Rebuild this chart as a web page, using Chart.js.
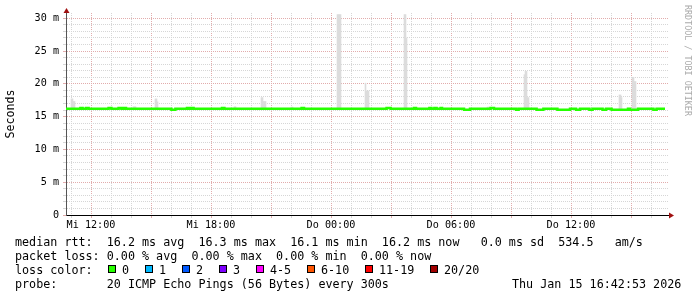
<!DOCTYPE html>
<html>
<head>
<meta charset="utf-8">
<script src="https://cdn.jsdelivr.net/npm/chart.js@4.4.1/dist/chart.umd.min.js"></script>
<style>
  body { margin: 0; background: #fff; }
  #wrap { position: relative; width: 697px; height: 297px; overflow: hidden; background: #fff; }
  #chart { position: absolute; left: 0; top: 0; }
  .txt { position: absolute; left: 15px; font-family: 'DejaVu Sans Mono', monospace; font-size: 11.72px; line-height: 14px; white-space: pre; color: #000; }
  .box { position: absolute; top: 265px; width: 6px; height: 6px; border: 1px solid #000; }
  #mark { position: absolute; left: 683px; top: 5px; writing-mode: vertical-rl; font-family: 'DejaVu Sans Mono', monospace; font-size: 8.4px; line-height: 9px; color: #aaa; white-space: pre; }
</style>
</head>
<body>
<div id="wrap">
  <canvas id="chart" width="697" height="297"></canvas>
  <div id="mark">RRDTOOL / TOBI OETIKER</div>
  <div class="txt" style="top:234.5px">median rtt:  16.2 ms avg  16.3 ms max  16.1 ms min  16.2 ms now   0.0 ms sd  534.5   am/s</div>
  <div class="txt" style="top:248.5px">packet loss: 0.00 % avg  0.00 % max  0.00 % min  0.00 % now</div>
  <div class="txt" style="top:262.5px" id="lossRow">loss color:</div>
  <div class="txt" style="top:276.5px">probe:       20 ICMP Echo Pings (56 Bytes) every 300s</div>
  <div class="txt" style="top:276.5px; left:512px">Thu Jan 15 16:42:53 2026</div>
</div>
<script>
// x values are hours counted from Mi 00:00, y values are milliseconds
const medianHours = [10.75, 11.47, 11.58, 11.75, 11.88, 12.88, 13.02, 13.38, 13.52, 13.63, 13.75,
  16.02, 16.22, 16.8, 16.92, 17.02, 17.13, 18.55, 18.67, 22.53, 22.65, 26.78, 26.98,
  28.15, 28.25, 28.92, 29.02, 29.17, 29.28, 29.48, 29.55, 30.65, 30.95, 31.98, 32.15,
  33.25, 33.38, 34.28, 34.62, 35.32, 35.95, 36.25, 36.45, 36.92, 37.08, 37.58, 37.75,
  38.03, 38.85, 38.95, 39.35, 40.12, 40.28, 40.7];
const medianMs = [16.2, 16.3, 16.2, 16.3, 16.2, 16.3, 16.2, 16.3, 16.2, 16.3, 16.2,
  16.05, 16.2, 16.3, 16.2, 16.3, 16.2, 16.3, 16.2, 16.3, 16.2, 16.3, 16.2,
  16.3, 16.2, 16.3, 16.2, 16.3, 16.2, 16.3, 16.2, 16.05, 16.2, 16.3, 16.2,
  16.05, 16.2, 16.05, 16.2, 16.05, 16.2, 16.05, 16.2, 16.05, 16.2, 16.05, 16.2,
  16.05, 16.2, 16.05, 16.2, 16.05, 16.2, 16.2];

const smokeHours = [11.025, 11.075, 11.125, 11.175, 14.125, 14.175, 14.225, 15.225, 15.275, 15.325,
  19.175, 19.225, 20.525, 20.575, 20.625, 20.675, 20.725, 22.025, 22.075,
  24.325, 24.375, 24.425, 24.475, 25.725, 25.775, 25.825, 25.875, 27.675, 27.725, 27.775,
  31.825, 31.875, 31.925, 33.675, 33.725, 33.775, 33.825, 33.875,
  38.425, 38.475, 38.525, 39.075, 39.125, 39.175, 39.225];
const smokeLow = [16.1, 16.1, 16.1, 16.1, 16.1, 16.1, 16.1, 16.1, 16.1, 16.1,
  16.1, 16.1, 16.1, 16.1, 16.1, 16.1, 16.1, 16.1, 16.1,
  16.1, 16.1, 16.1, 16.1, 16.1, 16.1, 16.1, 16.1, 16.1, 16.1, 16.1,
  16.1, 16.1, 16.1, 16.1, 16.1, 16.1, 16.1, 16.1,
  16.1, 16.1, 16.1, 16.1, 16.1, 16.1, 16.1];
const smokeHigh = [17.7, 17.7, 17.3, 17.3, 16.5, 16.5, 16.5, 17.7, 17.7, 17.25,
  16.5, 16.5, 17.9, 17.9, 17.3, 17.3, 17.3, 16.45, 16.45,
  30.55, 30.55, 30.55, 30.55, 20.1, 18.9, 18.9, 18.9, 30.55, 30.55, 27.0,
  16.45, 16.45, 16.45, 21.4, 21.9, 21.9, 17.9, 17.9,
  18.3, 18.3, 17.9, 21.0, 21.0, 20.35, 20.35];

const xTickHours = [12, 18, 24, 30, 36];
const xTickLabels = ['Mi 12:00', 'Mi 18:00', 'Do 00:00', 'Do 06:00', 'Do 12:00'];
const yTickValues = [0, 5, 10, 15, 20, 25, 30];
const yTickLabels = ['0', '5 m', '10 m', '15 m', '20 m', '25 m', '30 m'];

const lossLabels = ['0', '1', '2', '3', '4-5', '6-10', '11-19', '20/20'];
const lossColors = ['#26ff00', '#00b8ff', '#0059ff', '#7e00ff', '#ff00ff', '#ff5500', '#ff0000', '#a10000'];

const MONO = "'DejaVu Sans Mono', monospace";
const MINOR = '#d6d6d6';
const MAJOR = '#e2acac';

// loss color legend row
const lossRow = document.getElementById('lossRow').parentNode;
let bx = 108;
lossLabels.forEach(function (lbl, i) {
    const box = document.createElement('div');
    box.className = 'box';
    box.style.left = bx + 'px';
    box.style.background = lossColors[i];
    lossRow.appendChild(box);
    const t = document.createElement('div');
    t.className = 'txt';
    t.style.top = '262.5px';
    t.style.left = (bx + 14) + 'px';
    t.textContent = lbl;
    lossRow.appendChild(t);
    bx += 30 + 7 * lbl.length;
});

// red arrows at the axis ends
const arrowPlugin = {
    id: 'arrows',
    afterDraw(chart) {
        const { ctx, chartArea: a } = chart;
        ctx.save();
        ctx.fillStyle = '#a01010';
        ctx.beginPath();
        ctx.moveTo(a.left + 0.5 - 3, a.top);
        ctx.lineTo(a.left + 0.5 + 3, a.top);
        ctx.lineTo(a.left + 0.5, a.top - 5);
        ctx.closePath();
        ctx.fill();
        ctx.beginPath();
        ctx.moveTo(a.right, a.bottom + 0.5 - 3);
        ctx.lineTo(a.right, a.bottom + 0.5 + 3);
        ctx.lineTo(a.right + 5, a.bottom + 0.5);
        ctx.closePath();
        ctx.fill();
        ctx.restore();
    }
};

new Chart(document.getElementById('chart').getContext('2d'), {
    type: 'bar',
    data: {
        datasets: [
            {
                type: 'line',
                label: 'median',
                data: medianHours.map((h, i) => ({ x: h, y: medianMs[i] })),
                borderColor: '#26ff00',
                borderWidth: 2.5,
                stepped: true,
                pointRadius: 0,
                tension: 0
            },
            {
                type: 'bar',
                label: 'smoke',
                data: smokeHours.map((h, i) => ({ x: h, y: [smokeLow[i], smokeHigh[i]] })),
                backgroundColor: '#dcdcdc',
                borderWidth: 0,
                barThickness: 1
            }
        ]
    },
    options: {
        responsive: false,
        animation: false,
        events: [],
        layout: { padding: { left: 0, top: 13, right: 28, bottom: 62 } },
        plugins: { legend: { display: false }, tooltip: { enabled: false } },
        scales: {
            x: {
                type: 'linear',
                min: 10.75,
                max: 40.9,
                offset: false,
                afterFit: s => { s.height = 20; },
                border: { display: true, color: '#000', width: 1, dash: [1, 1] },
                grid: {
                    offset: false,
                    tickLength: 3,
                    color: c => (c.tick && c.tick.value % 3 === 0) ? MAJOR : MINOR
                },
                ticks: {
                    stepSize: 1,
                    includeBounds: false,
                    autoSkip: false,
                    maxRotation: 0,
                    minRotation: 0,
                    padding: 1,
                    color: '#000',
                    font: { family: MONO, size: 10.15 },
                    callback: v => {
                        const i = xTickHours.indexOf(v);
                        return i >= 0 ? xTickLabels[i] : '';
                    }
                }
            },
            y: {
                type: 'linear',
                min: 0,
                max: 30.8,
                stacked: false,
                afterFit: s => { s.width = 66; },
                border: { display: true, color: '#555', width: 1, dash: [1, 1] },
                grid: {
                    tickLength: 3,
                    color: c => (c.tick && c.tick.value % 5 === 0) ? MAJOR : MINOR
                },
                title: {
                    display: true,
                    text: 'Seconds',
                    color: '#000',
                    font: { family: MONO, size: 11.63 },
                    padding: { top: 3.5, bottom: 0 }
                },
                ticks: {
                    stepSize: 1,
                    includeBounds: false,
                    autoSkip: false,
                    padding: 4,
                    color: '#000',
                    font: { family: MONO, size: 10.15 },
                    callback: v => {
                        const i = yTickValues.indexOf(v);
                        return i >= 0 ? yTickLabels[i] : '';
                    }
                }
            }
        }
    },
    plugins: [arrowPlugin]
});
</script>
</body>
</html>
